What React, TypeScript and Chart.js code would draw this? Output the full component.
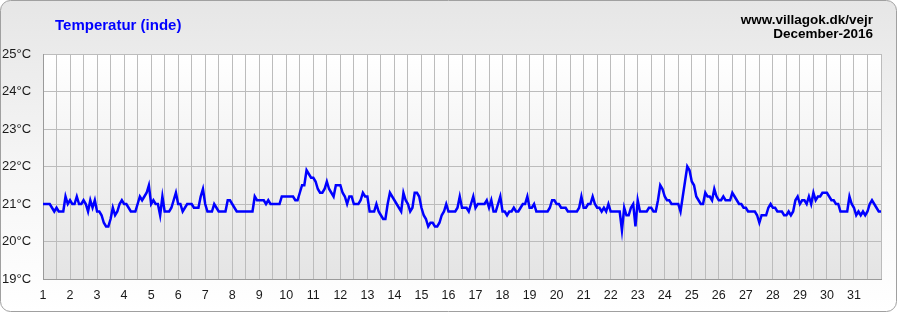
import React, { useEffect, useRef } from "react";
import { Chart, registerables } from "chart.js";

Chart.register(...registerables);

const titleText = "Temperatur (inde)";
const siteText = "www.villagok.dk/vejr";
const monthText = "December-2016";

const firstDay = 1;
const lastDayLabel = 31;
const samplesPerDay = 12; // 2-hourly readings
const yMin = 19;
const yMax = 25;

// Indoor temperature (°C), 12 readings per day
const week1 = [
  21.0, 21.0, 21.0, 21.0, 20.9, 20.8, 20.9, 20.8, 20.8, 20.8, 21.2, 21.0,
  21.1, 21.0, 21.0, 21.2, 21.0, 21.0, 21.1, 21.0, 20.8, 21.1, 20.9, 21.1,
  20.8, 20.8, 20.7, 20.5, 20.4, 20.4, 20.6, 20.9, 20.7, 20.8, 21.0, 21.1,
  21.0, 21.0, 20.9, 20.8, 20.8, 20.8, 21.0, 21.2, 21.1, 21.2, 21.3, 21.5,
  21.0, 21.1, 21.0, 21.0, 20.7, 21.2, 20.8, 20.8, 20.8, 20.9, 21.1, 21.3,
  21.0, 21.0, 20.8, 20.9, 21.0, 21.0, 21.0, 20.9, 20.9, 20.9, 21.2, 21.4,
  21.0, 20.8, 20.8, 20.8, 21.0, 20.9, 20.8, 20.8, 20.8, 20.8, 21.1, 21.1,
];
const week2 = [
  21.0, 20.9, 20.8, 20.8, 20.8, 20.8, 20.8, 20.8, 20.8, 20.8, 21.2, 21.1,
  21.1, 21.1, 21.1, 21.0, 21.1, 21.0, 21.0, 21.0, 21.0, 21.0, 21.2, 21.2,
  21.2, 21.2, 21.2, 21.2, 21.1, 21.1, 21.3, 21.5, 21.5, 21.9, 21.8, 21.7,
  21.7, 21.6, 21.4, 21.3, 21.3, 21.4, 21.6, 21.4, 21.3, 21.2, 21.5, 21.5,
  21.5, 21.3, 21.2, 21.0, 21.2, 21.2, 21.0, 21.0, 21.0, 21.1, 21.3, 21.2,
  21.2, 20.8, 20.8, 20.8, 21.0, 20.8, 20.7, 20.6, 20.6, 21.0, 21.3, 21.2,
  21.1, 21.0, 20.9, 20.8, 21.3, 21.1, 21.0, 20.8, 20.9, 21.3, 21.3, 21.2,
];
const week3 = [
  20.9, 20.7, 20.6, 20.4, 20.5, 20.5, 20.4, 20.4, 20.5, 20.7, 20.8, 21.0,
  20.8, 20.8, 20.8, 20.8, 20.9, 21.2, 20.9, 20.9, 20.9, 20.8, 21.0, 21.2,
  20.9, 21.0, 21.0, 21.0, 21.0, 21.1, 20.9, 21.1, 20.8, 20.8, 21.0, 21.2,
  20.8, 20.8, 20.7, 20.8, 20.8, 20.9, 20.8, 20.8, 20.9, 21.0, 21.0, 21.2,
  20.9, 20.9, 21.0, 20.8, 20.8, 20.8, 20.8, 20.8, 20.8, 20.9, 21.1, 21.1,
  21.0, 21.0, 20.9, 20.9, 20.9, 20.8, 20.8, 20.8, 20.8, 20.8, 20.9, 21.2,
  20.9, 20.9, 21.0, 21.0, 21.2, 21.0, 20.9, 20.9, 20.8, 20.9, 20.8, 21.0,
];
const week4 = [
  20.8, 20.8, 20.8, 20.8, 20.8, 20.3, 20.9, 20.7, 20.7, 20.9, 21.0, 20.4,
  21.1, 20.8, 20.8, 20.8, 20.8, 20.9, 20.9, 20.8, 20.8, 21.1, 21.5, 21.4,
  21.2, 21.1, 21.1, 21.0, 21.0, 21.0, 21.0, 20.8, 21.2, 21.6, 22.0, 21.9,
  21.6, 21.5, 21.2, 21.1, 21.0, 21.0, 21.3, 21.2, 21.2, 21.1, 21.4, 21.2,
  21.1, 21.1, 21.2, 21.1, 21.1, 21.1, 21.3, 21.2, 21.1, 21.0, 21.0, 20.9,
  20.9, 20.8, 20.8, 20.8, 20.8, 20.7, 20.5, 20.7, 20.7, 20.7, 20.9, 21.0,
  20.9, 20.9, 20.8, 20.8, 20.8, 20.7, 20.7, 20.8, 20.7, 20.8, 21.1, 21.2,
];
const week5 = [
  21.0, 21.1, 21.1, 21.0, 21.2, 21.0, 21.3, 21.1, 21.2, 21.2, 21.3, 21.3,
  21.3, 21.2, 21.1, 21.1, 21.0, 21.0, 20.8, 20.8, 20.8, 20.8, 21.2, 21.0,
  20.9, 20.7, 20.8, 20.7, 20.8, 20.7, 20.8, 21.0, 21.1, 21.0, 20.9, 20.8,
  20.8,
];

const FONT = '"Liberation Sans", Arial, sans-serif';

export default function App() {
  const ref = useRef<HTMLCanvasElement | null>(null);

  useEffect(() => {
    document.body.style.margin = "0";
    const canvas = ref.current;
    if (!canvas) return;
    const temps = [...week1, ...week2, ...week3, ...week4, ...week5];
    const points = temps.map((v, i) => ({ x: firstDay + i / samplesPerDay, y: v }));

    const bgPlugin = {
      id: "bg",
      beforeDraw(chart: any) {
        const { ctx, width, height, chartArea } = chart;
        ctx.save();
        const r = 10;
        const x0 = 0.5, y0 = 0.5, x1 = width - 0.5, y1 = height - 0.5;
        ctx.beginPath();
        ctx.moveTo(x0 + r, y0);
        ctx.lineTo(x1 - r, y0);
        ctx.arcTo(x1, y0, x1, y0 + r, r);
        ctx.lineTo(x1, y1 - r);
        ctx.arcTo(x1, y1, x1 - r, y1, r);
        ctx.lineTo(x0 + r, y1);
        ctx.arcTo(x0, y1, x0, y1 - r, r);
        ctx.lineTo(x0, y0 + r);
        ctx.arcTo(x0, y0, x0 + r, y0, r);
        ctx.closePath();
        const g = ctx.createLinearGradient(0, 0, 0, height);
        g.addColorStop(0, "#e6e6e6");
        g.addColorStop(0.55, "#f6f6f6");
        g.addColorStop(1, "#ffffff");
        ctx.fillStyle = g;
        ctx.fill();
        ctx.strokeStyle = "#a0a0a0";
        ctx.lineWidth = 1;
        ctx.stroke();
        const pg = ctx.createLinearGradient(0, chartArea.top, 0, chartArea.bottom);
        pg.addColorStop(0, "#ffffff");
        pg.addColorStop(1, "#e4e4e4");
        ctx.fillStyle = pg;
        ctx.fillRect(chartArea.left, chartArea.top, chartArea.right - chartArea.left, chartArea.bottom - chartArea.top);
        ctx.restore();
      },
      afterDraw(chart: any) {
        const { ctx } = chart;
        ctx.save();
        ctx.textBaseline = "alphabetic";
        ctx.font = `bold 15px ${FONT}`;
        ctx.fillStyle = "#0000ff";
        ctx.textAlign = "left";
        ctx.fillText(titleText, 55, 30);
        ctx.font = `bold 13.5px ${FONT}`;
        ctx.fillStyle = "#000000";
        ctx.textAlign = "right";
        ctx.fillText(siteText, 873, 23.5);
        ctx.fillText(monthText, 873, 37.5);
        ctx.restore();
      },
    };

    const chart = new Chart(canvas, {
      type: "line",
      data: {
        datasets: [
          {
            data: points,
            borderColor: "#0000ff",
            borderWidth: 2.5,
            pointRadius: 0,
            tension: 0,
            fill: false,
          },
        ],
      },
      options: {
        animation: false,
        responsive: false,
        devicePixelRatio: 1,
        parsing: false as any,
        layout: { padding: { left: 2, top: 54, right: 16, bottom: 0 } },
        plugins: { legend: { display: false }, tooltip: { enabled: false } },
        scales: {
          x: {
            type: "linear",
            min: firstDay,
            max: lastDayLabel + 1,
            afterFit(scale: any) {
              scale.height = 33;
            },
            afterBuildTicks(scale: any) {
              const t = [];
              for (let v = firstDay; v <= lastDayLabel + 1 + 1e-9; v += 0.5) t.push({ value: v });
              scale.ticks = t;
            },
            ticks: {
              autoSkip: false,
              maxRotation: 0,
              padding: 9,
              color: "#1a1a1a",
              font: { family: FONT, size: 12.5 },
              callback: (v: any) => {
                const n = Number(v);
                return Number.isInteger(n) && n <= lastDayLabel ? String(n) : "";
              },
            },
            grid: { color: "#bcbcbc", lineWidth: 1, drawTicks: false },
            border: { display: true, color: "#9a9a9a" },
          },
          y: {
            min: yMin,
            max: yMax,
            afterFit(scale: any) {
              scale.width = 41;
            },
            ticks: {
              stepSize: 1,
              crossAlign: "far",
              color: "#1a1a1a",
              font: { family: FONT, size: 13 },
              callback: (v: any) => `${v}°C`,
            },
            grid: { color: "#bcbcbc", lineWidth: 1, drawTicks: false },
            border: { display: true, color: "#9a9a9a" },
          },
        },
      },
      plugins: [bgPlugin],
    });
    return () => chart.destroy();
  }, []);

  return (
    <div style={{ width: 897, height: 312 }}>
      <canvas ref={ref} width={897} height={312} style={{ display: "block", width: 897, height: 312 }} />
    </div>
  );
}
